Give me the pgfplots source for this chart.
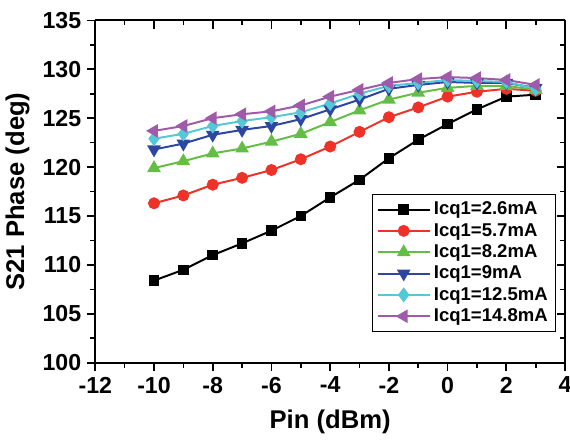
\documentclass[border=0pt]{standalone}
\usepackage{pgfplots}
\pgfplotsset{compat=1.18}
\usepackage{fontspec}
\setmainfont{Liberation Sans}
\definecolor{cBlack}{RGB}{0,0,0}
\definecolor{cRed}{RGB}{238,50,40}
\definecolor{cGreen}{RGB}{100,190,70}
\definecolor{cBlue}{RGB}{45,70,160}
\definecolor{cCyan}{RGB}{85,200,215}
\definecolor{cPurple}{RGB}{160,90,170}
\begin{document}
\begin{tikzpicture}
\pgfplotsset{common/.style={
  width=284pt, height=207pt, scale only axis,
  xmin=-12, xmax=4, ymin=100, ymax=135,
  xtick={-12,-10,...,4}, ytick={100,105,...,135},
  minor xtick={-11,-9,...,3}, minor ytick={102.5,107.5,...,132.5},
  axis line style={line width=1.2pt},
  major tick length=5pt, minor tick length=3pt,
  every tick/.style={line width=1pt, black},
}}
\begin{axis}[common, name=ax,
  tick align=outside, xtick pos=bottom, ytick pos=left,
  axis x line*=bottom, axis y line*=left,
  /pgf/number format/assume math mode=true,
  ticklabel style={font=\bfseries\fontsize{14}{16}\selectfont},
  xlabel={Pin (dBm)}, ylabel={S21 Phase (deg)},
  label style={font=\bfseries\fontsize{15.5}{18}\selectfont},
  xlabel style={yshift=-3pt}, ylabel style={yshift=1pt},
  legend style={at={(0.98,0.09)}, anchor=south east, draw=black, line width=0.6pt,
    font=\bfseries\fontsize{11.2}{12}\selectfont, row sep=-0.4pt, inner sep=2.5pt},
  legend cell align=left,
  legend image code/.code={\draw[mark repeat=2,mark phase=2] plot coordinates {(0cm,0cm) (0.55cm,0cm) (1.1cm,0cm)};},
  every axis plot/.append style={line width=1.2pt},
]
\addplot[cBlack, mark=square*, mark size=2.6pt] coordinates {
(-10,108.4) (-9,109.5) (-8,111.0) (-7,112.2) (-6,113.5) (-5,115.0) (-4,116.9)
(-3,118.7) (-2,120.9) (-1,122.8) (0,124.4) (1,125.9) (2,127.2) (3,127.4)};
\addlegendentry{Icq1=2.6mA}
\addplot[cRed, mark=*, mark size=3pt] coordinates {
(-10,116.3) (-9,117.1) (-8,118.2) (-7,118.9) (-6,119.7) (-5,120.8) (-4,122.1)
(-3,123.6) (-2,125.1) (-1,126.1) (0,127.2) (1,127.7) (2,128.0) (3,127.8)};
\addlegendentry{Icq1=5.7mA}
\addplot[cGreen, mark=triangle*, mark size=3.6pt] coordinates {
(-10,119.9) (-9,120.6) (-8,121.4) (-7,121.9) (-6,122.6) (-5,123.4) (-4,124.6)
(-3,125.8) (-2,126.9) (-1,127.6) (0,128.1) (1,128.3) (2,128.3) (3,127.9)};
\addlegendentry{Icq1=8.2mA}
\addplot[cBlue, mark=triangle*, mark options={rotate=180}, mark size=3.6pt] coordinates {
(-10,121.8) (-9,122.4) (-8,123.3) (-7,123.8) (-6,124.2) (-5,124.9) (-4,125.9)
(-3,126.9) (-2,128.0) (-1,128.4) (0,128.7) (1,128.6) (2,128.6) (3,128.1)};
\addlegendentry{Icq1=9mA}
\addplot[cCyan, mark=diamond*, mark size=3.6pt] coordinates {
(-10,122.9) (-9,123.4) (-8,124.2) (-7,124.7) (-6,125.1) (-5,125.6) (-4,126.5)
(-3,127.5) (-2,128.3) (-1,128.6) (0,128.9) (1,128.8) (2,128.7) (3,128.0)};
\addlegendentry{Icq1=12.5mA}
\addplot[cPurple, mark=triangle*, mark options={rotate=90}, mark size=3.6pt] coordinates {
(-10,123.7) (-9,124.2) (-8,125.0) (-7,125.4) (-6,125.7) (-5,126.3) (-4,127.2)
(-3,127.9) (-2,128.6) (-1,129.0) (0,129.2) (1,129.1) (2,128.9) (3,128.4)};
\addlegendentry{Icq1=14.8mA}
\end{axis}
\begin{pgfinterruptboundingbox}
\begin{axis}[common,
  tick align=inside, xtick pos=top, ytick pos=right,
  axis x line*=top, axis y line*=right,
  xticklabels={}, yticklabels={},
]
\end{axis}
\end{pgfinterruptboundingbox}
\pgfresetboundingbox
\path[use as bounding box] ([yshift=-4pt]ax.outer south west) rectangle ([xshift=3pt,yshift=4pt]ax.north east |- ax.outer north east);
\end{tikzpicture}
\end{document}
